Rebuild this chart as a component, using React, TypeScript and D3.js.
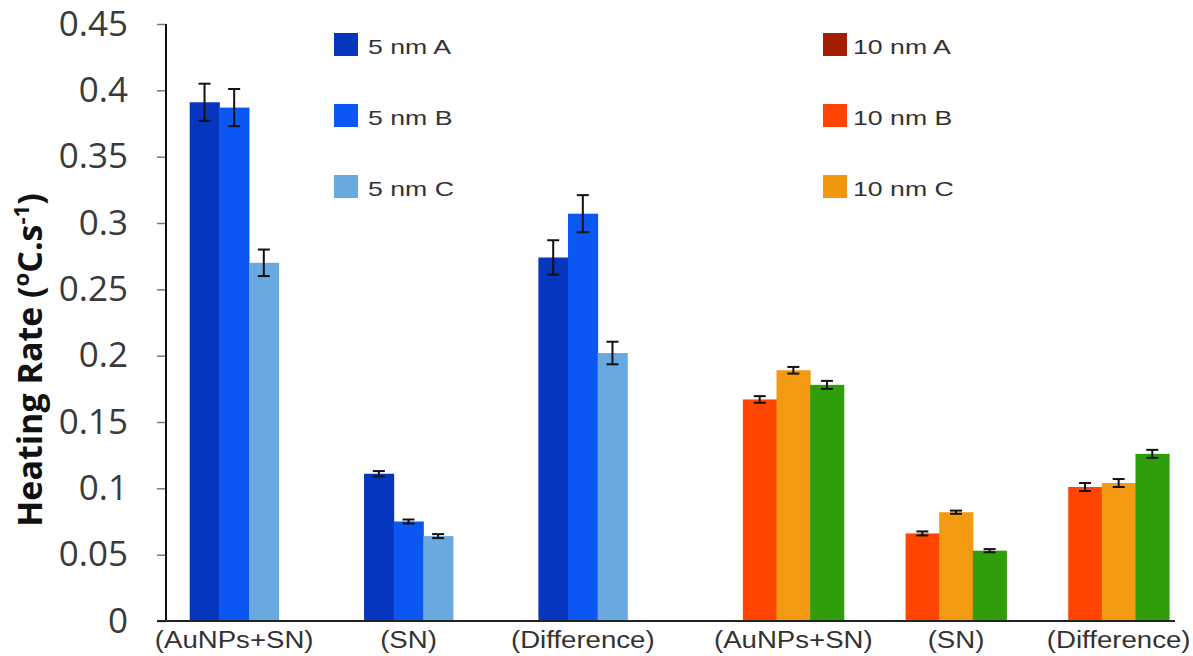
import React, { useRef, useEffect } from "react";
import * as d3 from "d3";

// groups on the x axis
const groups5 = ["(AuNPs+SN)", "(SN)", "(Difference)"];
const groups10 = ["(AuNPs+SN)", "(SN)", "(Difference)"];

// 5 nm series (values per group) and their error bars
const series5 = ["5 nm A", "5 nm B", "5 nm C"];
const values5 = [
  [0.391, 0.111, 0.274],
  [0.387, 0.075, 0.307],
  [0.27, 0.064, 0.202],
];
const errors5 = [
  [0.014, 0.002, 0.013],
  [0.014, 0.0015, 0.014],
  [0.01, 0.0015, 0.0085],
];

// 10 nm series
const series10 = ["10 nm A", "10 nm B", "10 nm C"];
const values10 = [
  [0.167, 0.066, 0.101],
  [0.189, 0.082, 0.104],
  [0.178, 0.053, 0.126],
];
const errors10 = [
  [0.0025, 0.0015, 0.003],
  [0.0025, 0.0012, 0.003],
  [0.003, 0.0012, 0.003],
];

const yTicks = [0, 0.05, 0.1, 0.15, 0.2, 0.25, 0.3, 0.35, 0.4, 0.45];

const colors5 = ["#0636bd", "#0c57f4", "#6aa9e0"];
const bars10 = ["#ff4500", "#f39a12", "#2f9e0a"];
const legend10 = ["#a41f02", "#ff4300", "#f0960f"];

const W = 1193;
const H = 656;
const SANS = "Liberation Sans, Arial, sans-serif";

const App = () => {
  const svgRef = useRef<SVGSVGElement | null>(null);

  useEffect(() => {
    const svg = d3.select(svgRef.current);
    svg.selectAll("*").remove();

    const axisX = 166;
    const y = d3.scaleLinear().domain([0, 0.45]).range([621, 24]);

    // x scales: two panels with slightly different spacing
    const x5 = d3
      .scaleBand<string>()
      .domain(groups5.map((_, i) => String(i)))
      .range([147, 670])
      .paddingInner(0.49)
      .paddingOuter(0.245);
    const x10 = d3
      .scaleBand<string>()
      .domain(groups10.map((_, i) => String(i)))
      .range([712, 1200])
      .paddingInner(0.38)
      .paddingOuter(0.19);

    const drawPanel = (
      xs: d3.ScaleBand<string>,
      groups: string[],
      series: string[],
      values: number[][],
      errors: number[][],
      colors: string[]
    ) => {
      const inner = d3
        .scaleBand<string>()
        .domain(series)
        .range([0, xs.bandwidth()])
        .padding(0);
      const g = svg.append("g");
      series.forEach((s, si) => {
        groups.forEach((_, gi) => {
          const v = values[si][gi];
          const x0 = (xs(String(gi)) as number) + (inner(s) as number);
          g.append("rect")
            .attr("x", x0)
            .attr("y", y(v))
            .attr("width", inner.bandwidth() + 0.5)
            .attr("height", y(0) - y(v))
            .attr("fill", colors[si]);
        });
      });
      // error bars on top
      series.forEach((s, si) => {
        groups.forEach((_, gi) => {
          const v = values[si][gi];
          const e = errors[si][gi];
          const cx =
            (xs(String(gi)) as number) + (inner(s) as number) + inner.bandwidth() / 2;
          const cap = 6;
          g.append("line")
            .attr("x1", cx)
            .attr("x2", cx)
            .attr("y1", y(v + e))
            .attr("y2", y(v - e))
            .attr("stroke", "#111")
            .attr("stroke-width", 2);
          [v + e, v - e].forEach((t) => {
            g.append("line")
              .attr("x1", cx - cap)
              .attr("x2", cx + cap)
              .attr("y1", y(t))
              .attr("y2", y(t))
              .attr("stroke", "#111")
              .attr("stroke-width", 2);
          });
        });
      });
      // group labels (the original text is a bit stretched sideways)
      g.selectAll("text.grp")
        .data(groups)
        .enter()
        .append("text")
        .attr(
          "transform",
          (_, i) =>
            `translate(${(xs(String(i)) as number) + xs.bandwidth() / 2},648) scale(1.15,1)`
        )
        .attr("text-anchor", "middle")
        .attr("font-family", SANS)
        .attr("font-size", 24)
        .attr("fill", "#333")
        .text((d) => d);
    };

    drawPanel(x5, groups5, series5, values5, errors5, colors5);
    drawPanel(x10, groups10, series10, values10, errors10, bars10);

    // y axis
    const yAxis = svg
      .append("g")
      .attr("transform", `translate(${axisX},0)`)
      .call(
        d3
          .axisLeft(y)
          .tickValues(yTicks)
          .tickSize(9)
          .tickPadding(29)
          .tickFormat((d) => String(d))
      );
    yAxis.select(".domain").remove();
    yAxis.selectAll(".tick line").attr("stroke", "#777").attr("stroke-width", 1.5);
    yAxis
      .selectAll(".tick text")
      .attr("font-family", "Open Sans, sans-serif")
      .attr("font-size", 35)
      .attr("fill", "#3a3a3a");

    svg
      .append("line")
      .attr("x1", axisX)
      .attr("x2", axisX)
      .attr("y1", y(0.45))
      .attr("y2", y(0))
      .attr("stroke", "#111")
      .attr("stroke-width", 2);
    svg
      .append("line")
      .attr("x1", 157)
      .attr("x2", 1175)
      .attr("y1", y(0))
      .attr("y2", y(0))
      .attr("stroke", "#222")
      .attr("stroke-width", 2);

    // y axis title
    const title = svg
      .append("text")
      .attr("transform", "translate(42,360) rotate(-90)")
      .attr("text-anchor", "middle")
      .attr("font-family", "Open Sans, sans-serif")
      .attr("font-weight", "bold")
      .attr("font-size", 34)
      .attr("fill", "#111");
    title.append("tspan").text("Heating Rate (");
    title.append("tspan").attr("dy", -13).attr("font-size", 22).text("o");
    title.append("tspan").attr("dy", 13).text("C.s");
    title.append("tspan").attr("dy", -13).attr("font-size", 22).text("-1");
    title.append("tspan").attr("dy", 13).text(")");

    // legends
    const legend = (
      names: string[],
      colors: string[],
      x0: number,
      textX: number
    ) => {
      const rowY = d3.scalePoint<string>().domain(names).range([45, 187]);
      const lg = svg.append("g");
      names.forEach((n, i) => {
        const cy = rowY(n) as number;
        lg.append("rect")
          .attr("x", x0)
          .attr("y", cy - 12)
          .attr("width", 24)
          .attr("height", 23)
          .attr("fill", colors[i]);
        lg.append("text")
          .attr("transform", `translate(${textX},${cy + 9}) scale(1.27,1)`)
          .attr("font-family", SANS)
          .attr("font-size", 21)
          .attr("fill", "#333")
          .text(n);
      });
    };
    legend(series5, colors5, 334, 368);
    legend(series10, legend10, 823, 853);
  }, []);

  return (
    <svg
      ref={svgRef}
      width={W}
      height={H}
      style={{ position: "absolute", left: 0, top: 0, background: "#fff" }}
    />
  );
};

export default App;
